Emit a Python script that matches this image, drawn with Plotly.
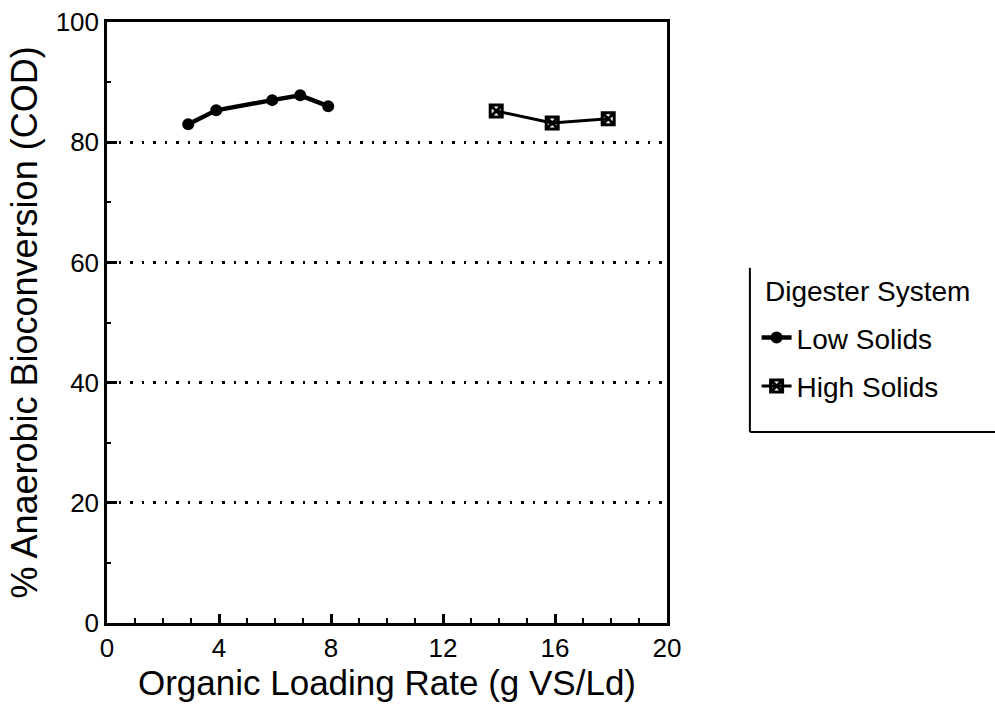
import plotly.graph_objects as go

low_x = [2.9, 3.9, 5.9, 6.9, 7.9]
low_y = [83.0, 85.3, 87.0, 87.8, 86.0]
high_x = [13.9, 15.9, 17.9]
high_y = [85.2, 83.2, 83.9]

x_ticks = [0, 4, 8, 12, 16, 20]
y_ticks = [0, 20, 40, 60, 80, 100]

FONT = "Liberation Sans, Arial, sans-serif"

fig = go.Figure()
fig.add_trace(go.Scatter(
    x=low_x, y=low_y, mode="lines+markers", name="Low Solids",
    line=dict(color="black", width=4.5),
    marker=dict(symbol="circle", size=12, color="black"),
    legendgroup="a",
))
fig.add_trace(go.Scatter(
    x=high_x, y=high_y, mode="lines+markers", name="High Solids",
    line=dict(color="black", width=3),
    marker=dict(symbol="square-x-open", size=12, color="black", line=dict(width=3, color="black")),
    legendgroup="b",
))

axis_common = dict(
    showline=True, linecolor="black", linewidth=2.5, mirror=True,
    ticks="inside", tickcolor="black", tickwidth=2.5,
    tickfont=dict(family=FONT, size=26, color="black"),
    zeroline=False, automargin=False,
)

fig.update_xaxes(
    range=[0, 20], tickvals=x_ticks, ticklen=9,
    showgrid=False,
    minor=dict(dtick=1, ticks="inside", ticklen=5, tickwidth=1.5, tickcolor="black"),
    title=dict(text="Organic Loading Rate (g VS/Ld)", font=dict(family=FONT, size=35, color="black"), standoff=6),
    **axis_common,
)
fig.update_yaxes(
    range=[0, 100], tickvals=y_ticks, ticklen=10,
    showgrid=True, gridcolor="black", gridwidth=2.5, griddash="2.5px,9px",
    minor=dict(dtick=10, ticks="inside", ticklen=4, tickwidth=2, tickcolor="black", showgrid=False),
    title=dict(text="% Anaerobic Bioconversion (COD)", font=dict(family=FONT, size=36, color="black"), standoff=8),
    **axis_common,
)

# legend frame (left and bottom edges only, as in reference)
fig.add_shape(type="line", xref="paper", yref="paper", x0=1.148, x1=1.148, y0=0.318, y1=0.591,
              line=dict(color="black", width=2))
fig.add_shape(type="line", xref="paper", yref="paper", x0=1.148, x1=1.6, y0=0.318, y1=0.318,
              line=dict(color="black", width=2))
fig.add_annotation(text="Digester System", xref="paper", yref="paper", x=1.1,
                   y=0.551, xanchor="left", yanchor="middle", showarrow=False,
                   xshift=40, font=dict(family=FONT, size=28, color="black"))

fig.update_layout(
    width=995, height=717,
    margin=dict(l=107, r=328, t=22, b=94),
    paper_bgcolor="white", plot_bgcolor="white",
    showlegend=True,
    legend=dict(
        x=1.16, y=0.516, xanchor="left", yanchor="top",
        font=dict(family=FONT, size=28, color="black"),
        tracegroupgap=9, itemwidth=30,
        bgcolor="rgba(0,0,0,0)", borderwidth=0,
    ),
)

fig.write_html("out.html")
